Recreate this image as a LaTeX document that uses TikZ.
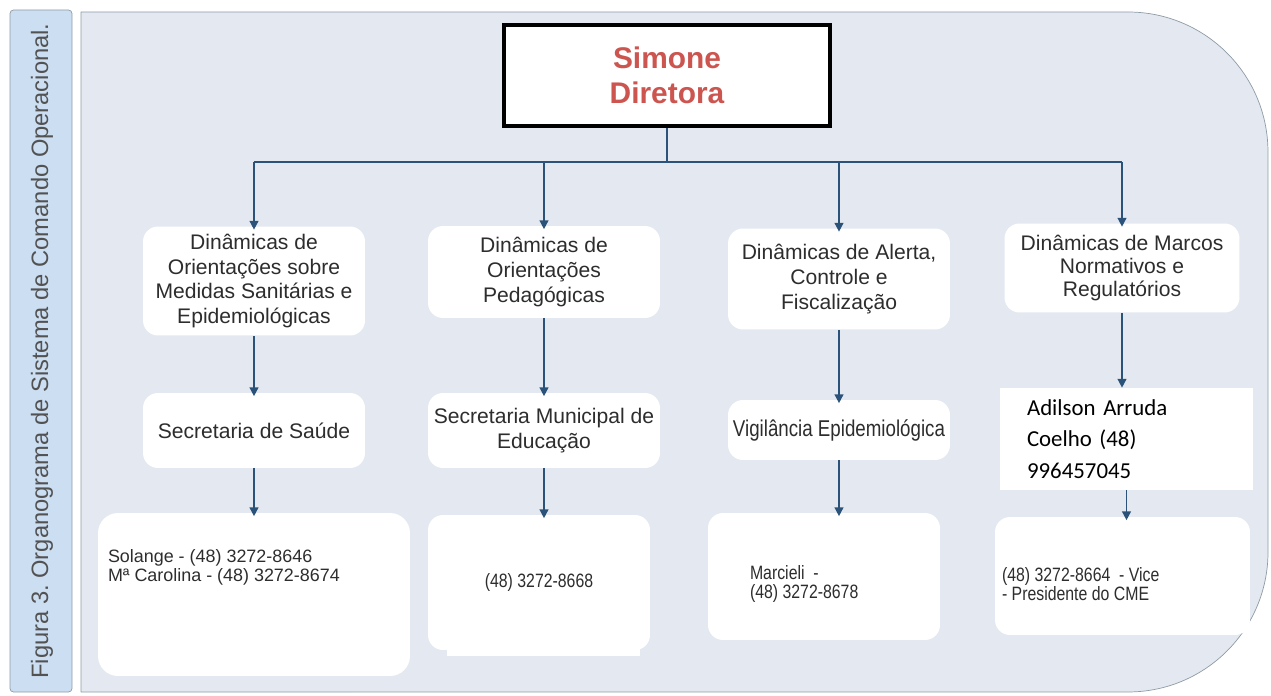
\documentclass[tikz,border=0pt]{standalone}
\usepackage{fontspec}
\setmainfont{Liberation Sans}
\newfontfamily\narrowfont{Liberation Sans}[FakeStretch=0.82]
\newfontfamily\calfont{Carlito}
\usetikzlibrary{positioning, arrows.meta}
\frenchspacing

\definecolor{fundo}{RGB}{228,233,241}
\definecolor{lateral}{RGB}{204,222,242}
\definecolor{borda}{RGB}{142,155,165}
\definecolor{corseta}{RGB}{43,82,120}
\definecolor{nome}{RGB}{205,85,80}
\definecolor{texto}{RGB}{45,45,45}

\tikzset{
  caixa/.style={fill=white, rounded corners=0.3cm, align=center, text=texto, inner sep=0pt,
    font=\fontsize{12}{14.2}\selectfont},
  estreita/.style={font=\narrowfont\fontsize{13}{14}\selectfont},
  fone/.style={text=texto, align=left, inner sep=0pt, anchor=north west},
  ligacao/.style={draw=corseta, line width=0.9pt},
  seta/.style={ligacao, -{Triangle[length=5pt,width=5pt]}}
}

\begin{document}
\begin{tikzpicture}[x=0.02cm, y=-0.02cm]
        \useasboundingbox (0,0) rectangle (1271,696);

        % moldura
        \draw[borda, fill=lateral, rounded corners=2pt] (10,10) rectangle (72,692);
        \node[rotate=90, text=black!68, font=\fontsize{13.5}{15}\selectfont] (legenda) at (42,351)
            {Figura 3. Organograma de Sistema de Comando Operacional.};
        \draw[borda, fill=fundo] (81,12) -- (1128,12) arc[start angle=90, end angle=0, radius=2.8cm]
            -- (1268,552) arc[start angle=0, end angle=-90, radius=2.8cm] -- (81,692) -- cycle;

        % diretora
        \node [draw=black, line width=2.3pt, fill=white, minimum width=6.52cm, minimum height=2.02cm,
            align=center, text=nome, font=\bfseries\fontsize{17}{19.8}\selectfont] (dir) at (667,75.5)
            {Simone\\Diretora};
        \coordinate (barra) at (667,162);

        % dinamicas
        \node [caixa, minimum width=4.44cm, minimum height=2.18cm] (din1) at (254,281)
            {Din\^amicas de\\Orienta\c{c}\~oes sobre\\Medidas Sanit\'arias e\\Epidemiol\'ogicas};
        \node [caixa, minimum width=4.64cm, minimum height=1.84cm] (din2) at (544,272)
            {Din\^amicas de\\Orienta\c{c}\~oes\\Pedag\'ogicas};
        \node [caixa, minimum width=4.44cm, minimum height=2.02cm] (din3) at (839,279)
            {Din\^amicas de Alerta,\\Controle e\\Fiscaliza\c{c}\~ao};
        \node [caixa, minimum width=4.7cm, minimum height=1.78cm,
            font=\fontsize{12}{13.2}\selectfont] (din4) at (1122,268)
            {Din\^amicas de Marcos\\Normativos e\\Regulat\'orios};

        % secretarias
        \node [caixa, minimum width=4.44cm, minimum height=1.5cm] (sec1) at (254,430.5)
            {Secretaria de Sa\'ude};
        \node [caixa, minimum width=4.64cm, minimum height=1.5cm] (sec2) at (544,430.5)
            {Secretaria Municipal de\\Educa\c{c}\~ao};
        \node [caixa, estreita, minimum width=4.44cm, minimum height=1.2cm] (sec3) at (839,430)
            {Vigil\^ancia Epidemiol\'ogica};
        \node [fill=white, text=black, align=left, text width=3.98cm, inner xsep=0.54cm,
            minimum height=2.04cm, font=\calfont\fontsize{13}{18}\selectfont] (sec4) at (1126.5,439)
            {Adilson Arruda\\Coelho (48)\\996457045};

        % telefones
        \node [caixa, rounded corners=0.4cm, minimum width=6.24cm, minimum height=3.26cm] (tel1) at (254,594.5) {};
        \fill[white] (447,640) rectangle (640,656);
        \node [caixa, minimum width=4.44cm, minimum height=2.7cm,
            font=\narrowfont\fontsize{11}{11.3}\selectfont] (tel2) at (539,582.5) {(48) 3272-8668};
        \node [caixa, minimum width=4.64cm, minimum height=2.54cm] (tel3) at (824,576.5) {};
        \node [caixa, minimum width=5.1cm, minimum height=2.36cm] (tel4) at (1122.5,576) {};

        \node [fone, font=\fontsize{10.2}{11.3}\selectfont] (fone1) at ([xshift=0.2cm,yshift=-0.72cm]tel1.north west)
            {Solange - (48) 3272-8646\\M\textordfeminine{} Carolina - (48) 3272-8674};
        \node [fone, font=\narrowfont\fontsize{11}{11.3}\selectfont] (fone3) at ([xshift=0.84cm,yshift=-1.04cm]tel3.north west)
            {Marcieli~ -\\(48) 3272-8678};
        \node [fone, font=\narrowfont\fontsize{11}{11.3}\selectfont] (fone4) at ([xshift=0.14cm,yshift=-1.0cm]tel4.north west)
            {(48) 3272-8664~ - Vice\\- Presidente do CME};

        % ligacoes
        \draw [ligacao] (dir.south) -- (barra);
        \draw [ligacao] (din1.north |- barra) -- (din4.north |- barra);
        \draw [seta] (din1.north |- barra) -- ([yshift=-2pt]din1.north);
        \draw [seta] (din2.north |- barra) -- ([yshift=-2pt]din2.north);
        \draw [seta] (din3.north |- barra) -- ([yshift=-2pt]din3.north);
        \draw [seta] (din4.north |- barra) -- ([yshift=-2pt]din4.north);

        \draw [seta] (din1.south) -- ([yshift=-2pt]din1.south |- sec1.north);
        \draw [seta] (din2.south) -- ([yshift=-2pt]din2.south |- sec2.north);
        \draw [seta] (din3.south) -- ([yshift=-2pt]din3.south |- sec3.north);
        \draw [seta] (din4.south) -- (din4.south |- sec4.north);

        \draw [seta] (sec1.south) -- ([yshift=-2pt]sec1.south |- tel1.north);
        \draw [seta] (sec2.south) -- ([yshift=-2pt]sec2.south |- tel2.north);
        \draw [seta] (sec3.south) -- ([yshift=-2pt]sec3.south |- tel3.north);
        \draw [seta] (sec4.south) -- ([yshift=-2pt]sec4.south |- tel4.north);
    \end{tikzpicture}
\end{document}
